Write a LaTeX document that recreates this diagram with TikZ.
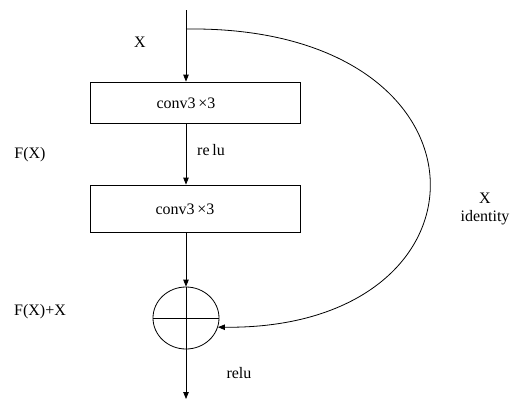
\documentclass[tikz,border=0pt]{standalone}
\usepackage{fontspec}
\setmainfont{Liberation Serif}
\usetikzlibrary{arrows.meta,shapes.geometric}
\begin{document}
\begin{tikzpicture}[x=1pt,y=-1pt,
  line width=0.8pt,
  font=\fontsize{16}{19}\selectfont,
  arr/.style={-{Triangle[length=7pt,width=5.5pt]}},
  convbox/.style={draw,rectangle,minimum width=210pt,inner sep=0pt},
  lbl/.style={inner sep=0pt}]
\useasboundingbox (0,0) rectangle (511,402);
\coordinate (in) at (186,10);
\coordinate (split) at (186,29);
\node[convbox,minimum height=41pt] (b1) at (195,102.5) {};
\node[lbl] (t1) at (186,103) {conv3\,×3};
\node[convbox,minimum height=47pt] (b2) at (195.5,208.5) {};
\node[lbl] (t2) at (185,209) {conv3\,×3};
\node[draw,ellipse,minimum width=66pt,minimum height=62pt,inner sep=0pt] (sum) at (186,318) {};
\draw (sum.west) -- (sum.east);
\draw (sum.north) -- (sum.south);
\coordinate (out) at (186,399);
\draw[arr] (in) -- (in |- b1.north);
\draw[arr] (b1.south -| in) -- (b2.north -| in);
\draw[arr] (b2.south -| in) -- (sum.north);
\draw[arr] (sum.south) -- (out);
\draw[arr] (split) .. controls (505,25) and (505,330) .. (sum.-16);
\node[lbl] (lx) at (140,42) {X};
\node[lbl] (lfx) at (30,155) {F(X)};
\node[lbl] (lrelu1) at (211,150) {re\,lu};
\node[lbl] (lid1) at (485,198) {X};
\node[lbl] (lid2) at (485,218) {identity};
\node[lbl] (lsum) at (40,312) {F(X)+X};
\node[lbl] (lrelu2) at (239,373) {relu};
\end{tikzpicture}
\end{document}
